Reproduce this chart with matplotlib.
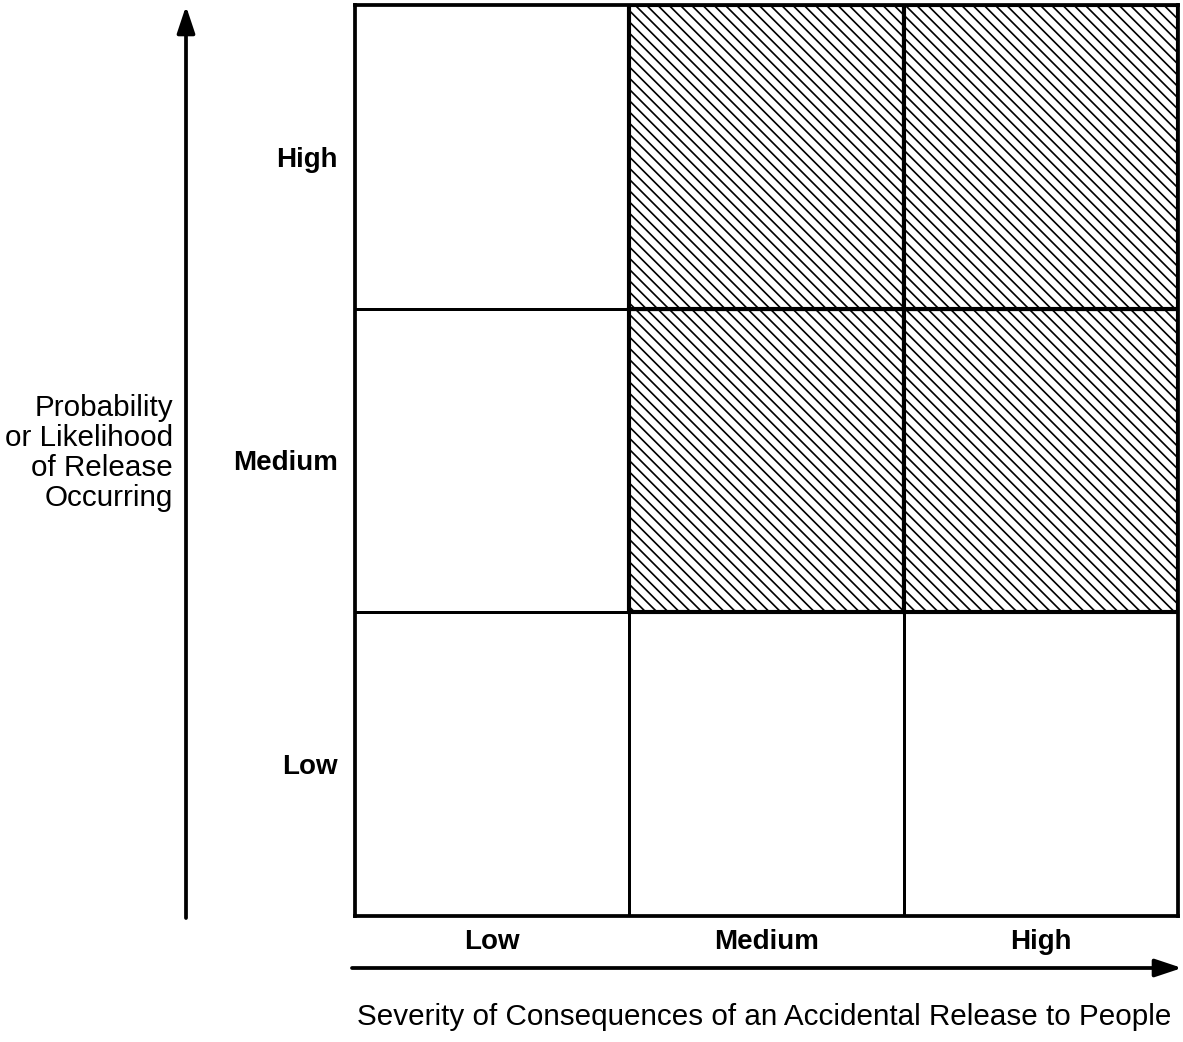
import matplotlib
matplotlib.use("Agg")
import matplotlib.pyplot as plt
from matplotlib.patches import Rectangle, FancyArrowPatch

plt.rcParams['font.family'] = ['Liberation Sans', 'DejaVu Sans']
plt.rcParams['hatch.linewidth'] = 0.9

severity = ['Low', 'Medium', 'High']
likelihood = ['Low', 'Medium', 'High']
# rows: likelihood Low..High, cols: severity Low..High ; 1 = hatched
hatched = [[0, 0, 0],
           [0, 1, 1],
           [0, 1, 1]]
x_title = 'Severity of Consequences of an Accidental Release to People'
y_title = 'Probability\nor Likelihood\nof Release\nOccurring'

DPI = 135
W, H = 1183, 1042
fig = plt.figure(figsize=(W / DPI, H / DPI), dpi=DPI)

def fx(px):
    return px / W

def fy(py):
    return 1 - py / H

ax = fig.add_axes([fx(355), fy(916), fx(1178) - fx(355), fy(5) - fy(916)])
ax.set_xlim(0, len(severity))
ax.set_ylim(0, len(likelihood))

for r in range(len(likelihood)):
    for c in range(len(severity)):
        if hatched[r][c]:
            ax.add_patch(Rectangle((c, r), 1, 1, facecolor='white',
                                   edgecolor='black', hatch='\\\\\\\\',
                                   linewidth=2.2, zorder=1))

for i in range(1, len(severity)):
    ax.axvline(i, color='black', lw=1.6, zorder=2)
for i in range(1, len(likelihood)):
    ax.axhline(i, color='black', lw=1.6, zorder=2)

for s in ax.spines.values():
    s.set_linewidth(2.0)
    s.set_color('black')

ax.set_xticks([i + 0.5 for i in range(len(severity))])
ax.set_xticklabels(severity, fontsize=14.8, fontweight='bold')
ax.set_yticks([i + 0.5 for i in range(len(likelihood))])
ax.set_yticklabels(likelihood, fontsize=14.8, fontweight='bold')
ax.tick_params(axis='x', length=0, pad=7)
ax.tick_params(axis='y', length=0, pad=9)

# arrows
fig.add_artist(FancyArrowPatch(
    (fx(186), fy(918)), (fx(186), fy(6)), transform=fig.transFigure,
    arrowstyle='-|>,head_length=0.6,head_width=0.2', mutation_scale=20,
    color='black', lw=2.0, shrinkA=0, shrinkB=0))
fig.add_artist(FancyArrowPatch(
    (fx(352), fy(968)), (fx(1182), fy(968)), transform=fig.transFigure,
    arrowstyle='-|>,head_length=0.6,head_width=0.2', mutation_scale=20,
    color='black', lw=2.0, shrinkA=0, shrinkB=0))

fig.text(fx(764), fy(1017), x_title, ha='center', va='center', fontsize=15.8)
fig.text(fx(173), fy(453), y_title, ha='right', va='center', fontsize=15.8,
         linespacing=1.08, multialignment='right')

fig.savefig('out.png', dpi=DPI, facecolor='white')
